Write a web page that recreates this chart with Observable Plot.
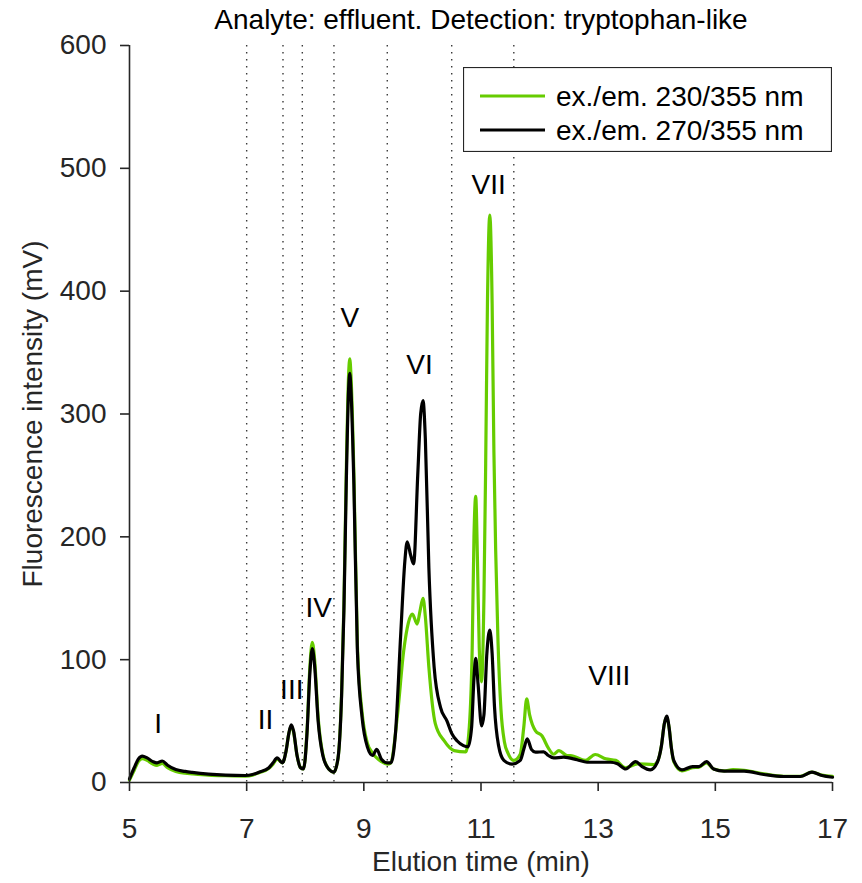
<!DOCTYPE html>
<html><head><meta charset="utf-8">
<script src="https://cdn.jsdelivr.net/npm/d3@7"></script>
<script src="https://cdn.jsdelivr.net/npm/@observablehq/plot@0.6"></script>
<style>
body{margin:0;background:#fff;font-family:"Liberation Sans",Arial,sans-serif;}
#wrap{position:relative;width:862px;height:883px;}
#legend{position:absolute;left:463px;top:67px;}
</style></head><body><div id="wrap"></div>
<script>
const title = "Analyte: effluent. Detection: tryptophan-like";
const xLabel = "Elution time (min)";
const yLabel = "Fluorescence intensity (mV)";
const seriesNames = ["ex./em. 230/355 nm", "ex./em. 270/355 nm"];
const seriesColors = ["#66cc00", "#000000"];
const xTicks = [5, 7, 9, 11, 13, 15, 17];
const yTicks = [0, 100, 200, 300, 400, 500, 600];
const dividers = [7.0, 7.62, 7.95, 8.49, 9.40, 10.50, 11.56];
const peakLabels = ["I", "II", "III", "IV", "V", "VI", "VII", "VIII"];
const peakX = [5.49, 7.32, 7.77, 8.23, 8.76, 9.95, 11.13, 13.19];
const peakY = [48, 51, 75, 142, 378, 340, 486, 87];

// ex./em. 230/355 nm (green)
const t230 = [5.00,5.08,5.15,5.22,5.30,5.40,5.47,5.56,5.65,5.79,5.95,6.07,6.35,6.64,6.98,7.10,7.21,7.38,7.45,7.52,7.61,7.67,7.72,7.76,7.80,7.86,7.92,7.97,8.03,8.08,8.12,8.16,8.22,8.30,8.40,8.49,8.56,8.62,8.66,8.70,8.74,8.76,8.78,8.83,8.89,8.97,9.06,9.15,9.22,9.30,9.40,9.46,9.57,9.68,9.76,9.83,9.91,9.96,10.01,10.05,10.11,10.22,10.37,10.54,10.74,10.80,10.85,10.88,10.91,10.94,10.97,11.01,11.05,11.08,11.11,11.15,11.19,11.22,11.25,11.29,11.34,11.40,11.46,11.56,11.67,11.73,11.78,11.83,11.93,12.04,12.15,12.24,12.33,12.47,12.53,12.78,12.95,13.13,13.30,13.47,13.67,13.95,14.01,14.08,14.13,14.17,14.21,14.25,14.29,14.43,14.61,14.72,14.85,14.97,15.15,15.30,15.49,15.83,16.17,16.45,16.65,16.82,17.00];
const v230 = [2,10,17,19.5,18,15,14,15.5,12,9,7.5,7,6,5.5,5.2,6,8,11.5,15,19,16,25,40,46,41,22,12,11,42,95,114,100,53,23,11,8.5,20,72,145,252,332,345,332,252,112,57,32,24,20,17,15,16,53,107,130,137,129,140,150,135,94,48,34,26,25,45,110,200,233,180,110,82,150,260,390,462,390,270,190,115,60,33,24,18,23,45,68,55,42,38,28,23,26,22,22,18,22.8,19.3,18,12,15.2,14.6,17,30,48,53,45,28,17,9.5,12,12.5,16,11,9.5,10.5,10,7,5,5,8.5,6,5];

// ex./em. 270/355 nm (black)
const t270 = [5.00,5.08,5.15,5.22,5.30,5.40,5.47,5.56,5.65,5.79,5.95,6.07,6.35,6.64,6.98,7.10,7.21,7.38,7.45,7.52,7.61,7.67,7.72,7.76,7.80,7.86,7.92,7.97,8.03,8.08,8.12,8.16,8.22,8.30,8.40,8.49,8.56,8.62,8.66,8.70,8.74,8.76,8.78,8.83,8.89,8.97,9.06,9.15,9.22,9.30,9.40,9.46,9.54,9.63,9.70,9.74,9.80,9.85,9.92,9.97,10.01,10.05,10.11,10.20,10.31,10.42,10.50,10.59,10.70,10.78,10.84,10.88,10.91,10.95,11.01,11.05,11.10,11.15,11.19,11.23,11.30,11.39,11.53,11.67,11.73,11.79,11.86,11.93,12.07,12.15,12.24,12.41,12.64,12.81,13.04,13.21,13.33,13.47,13.64,13.75,13.89,14.01,14.08,14.13,14.17,14.21,14.25,14.29,14.43,14.61,14.72,14.85,14.97,15.15,15.49,15.83,16.17,16.45,16.65,16.82,17.00];
const v270 = [3,12,19,21.5,20,17,16,17.5,14,10.5,9,8.2,6.8,6,5.7,6.5,8.4,12,16,20,16,25,40,47,42,22,12,11,40,90,109,95,50,22,11,8.5,20,70,140,243,320,333,320,243,107,53,29,22,27,19,16,16,40,121,180,196,185,178,250,300,311,280,175,94,61,50,40,34,30,29,45,85,101,80,46,55,105,124,105,62,30,18,15,18,27,35.5,27,24.7,25,22,20,20.6,18.5,16.5,16.5,16.5,15.2,11,17,13,10.3,16.5,30,48,54,45,28,18,10.3,13,13,17,11,9.2,9.2,6.5,4.9,4.9,8.4,5.7,4.3];

const green = t230.map((t, i) => ({t, v: v230[i]}));
const black = t270.map((t, i) => ({t, v: v270[i]}));
const peaks = peakLabels.map((l, i) => ({l, x: peakX[i], y: peakY[i]}));
const ink = "#262626";
const fs = 28;

const chart = Plot.plot({
  width: 862, height: 883,
  marginLeft: 129, marginRight: 30, marginTop: 45, marginBottom: 101,
  x: {domain: [5, 17]},
  y: {domain: [0, 600]},
  style: {fontFamily: "Liberation Sans, Arial, sans-serif", fontSize: fs + "px", color: ink, background: "transparent", overflow: "visible"},
  marks: [
    Plot.ruleX(dividers, {stroke: "#3a3a3a", strokeWidth: 1.4, strokeDasharray: "1.5,5.5"}),
    Plot.line(green, {x: "t", y: "v", stroke: seriesColors[0], strokeWidth: 3.2, curve: "monotone-x"}),
    Plot.line(black, {x: "t", y: "v", stroke: seriesColors[1], strokeWidth: 3.2, curve: "monotone-x"}),
    Plot.text(peaks, {x: "x", y: "y", text: "l", fill: "#000", fontSize: fs}),
    Plot.ruleX([5], {stroke: ink, strokeWidth: 1.6}),
    Plot.ruleY([0], {stroke: ink, strokeWidth: 1.6}),
    Plot.axisX({ticks: xTicks, tickSize: 9, tickPadding: 27, label: null, strokeWidth: 1.6, fontSize: fs}),
    Plot.axisY({ticks: yTicks, tickSize: 9, tickPadding: 14, label: null, strokeWidth: 1.6, fontSize: fs}),
    Plot.text([title], {frameAnchor: "top", lineAnchor: "middle", dy: -25, fill: "#000", fontSize: fs}),
    Plot.text([xLabel], {frameAnchor: "bottom", lineAnchor: "middle", dy: 80, fill: ink, fontSize: fs}),
    Plot.text([yLabel], {frameAnchor: "left", textAnchor: "middle", lineAnchor: "middle", dx: -96, rotate: -90, fill: ink, fontSize: fs})
  ]
});
const wrap = document.getElementById("wrap");
wrap.appendChild(chart);

// legend
const lg = d3.select(wrap).append("div").attr("id", "legend");
const svg = lg.append("svg").attr("width", 369).attr("height", 85);
svg.append("rect").attr("x", 0.5).attr("y", 0.5).attr("width", 368).attr("height", 84)
  .attr("fill", "#fff").attr("stroke", ink).attr("stroke-width", 1.2);
seriesNames.forEach((name, i) => {
  const yy = 29 + i * 34;
  svg.append("line").attr("x1", 17).attr("x2", 82).attr("y1", yy).attr("y2", yy)
    .attr("stroke", seriesColors[i]).attr("stroke-width", 3.2);
  svg.append("text").attr("x", 93).attr("y", yy).attr("dy", "0.35em")
    .attr("font-size", fs).attr("fill", "#000")
    .attr("font-family", "Liberation Sans, Arial, sans-serif").text(name);
});
</script>
</body></html>
